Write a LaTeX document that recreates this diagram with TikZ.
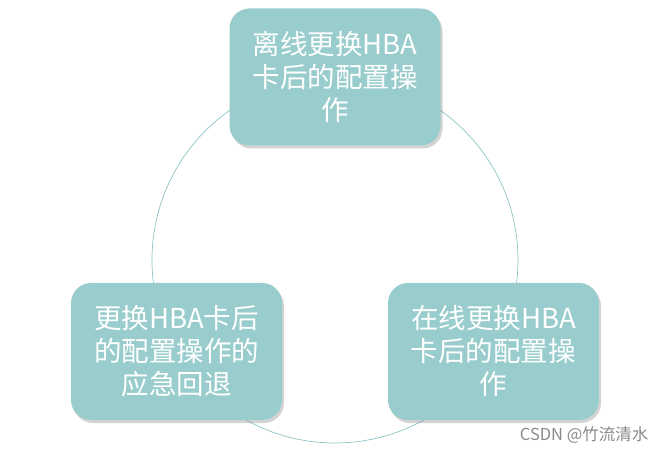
\documentclass[tikz,border=0pt]{standalone}
\usepackage{fontspec}
\setmainfont{Noto Sans CJK SC}
\usepackage{tikz}
\usetikzlibrary{shadows,calc}
\definecolor{TealBox}{HTML}{99CCCC}
\definecolor{TealLine}{HTML}{8CC4C4}
\definecolor{MarkGray}{HTML}{8A8A8A}

\begin{document}
\begin{tikzpicture}[x=1pt,y=1pt,
    bx/.style={rectangle,rounded corners=20pt,fill=TealBox,
               minimum width=211pt,minimum height=137pt,align=center,
               text=white,font=\fontsize{27.5}{33}\selectfont,
               drop shadow={shadow xshift=2pt,shadow yshift=-3pt,opacity=.35}},
    ring/.style={draw=TealLine,line width=.7pt}]
\useasboundingbox (0,0) rectangle (667,453);
\coordinate (o) at (335,193);
\draw[ring] (o) circle (183);
\node[bx] (off) at ($(o)+(90:183)$)  {离线更换HBA\\卡后的配置操\\作};
\node[bx] (on)  at ($(o)+(330:183)$) {在线更换HBA\\卡后的配置操\\作};
\node[bx] (rb)  at ($(o)+(210:183)$) {更换HBA卡后\\的配置操作的\\应急回退};
\node[text=MarkGray,font=\fontsize{16.5}{18}\selectfont,anchor=east] (wm) at (652,18) {CSDN @竹流清水};
\end{tikzpicture}
\end{document}
